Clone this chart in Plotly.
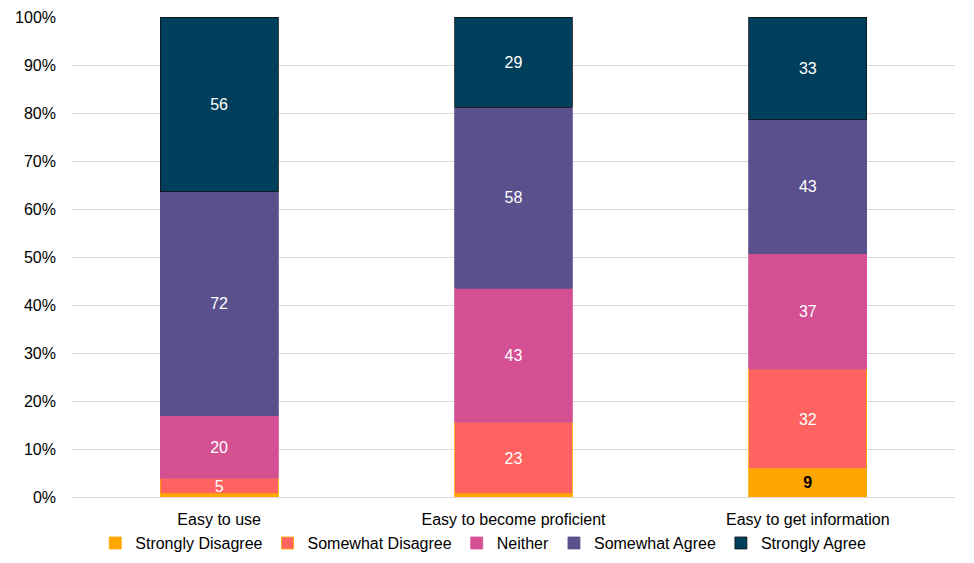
import plotly.graph_objects as go

categories = ["Easy to use", "Easy to become proficient", "Easy to get information"]
series_names = ["Strongly Disagree", "Somewhat Disagree", "Neither", "Somewhat Agree", "Strongly Agree"]
strongly_disagree = [1, 1, 9]
somewhat_disagree = [5, 23, 32]
neither = [20, 43, 37]
somewhat_agree = [72, 58, 43]
strongly_agree = [56, 29, 33]
y_ticks = [0, 10, 20, 30, 40, 50, 60, 70, 80, 90, 100]
y_tick_labels = ["0%", "10%", "20%", "30%", "40%", "50%", "60%", "70%", "80%", "90%", "100%"]

values = [strongly_disagree, somewhat_disagree, neither, somewhat_agree, strongly_agree]
colors = ["#FFA600", "#FF6361", "#D45092", "#5A508D", "#003F5C"]
line_colors = ["#FFA600", "#FFA600", "#D45092", "#5A508D", "#111111"]

FONT = "Liberation Sans, Arial, sans-serif"

fig = go.Figure()
for name, vals, col, lc in zip(series_names, values, colors, line_colors):
    if name == "Strongly Disagree":
        texts = ["<b>%d</b>" % v if v >= 5 else "" for v in vals]
        tcolor = "#000000"
    else:
        texts = [str(v) if v >= 5 else "" for v in vals]
        tcolor = "#FFFFFF"
    fig.add_trace(go.Bar(
        name=name, x=categories, y=vals, marker=dict(color=col, line=dict(color=lc, width=0.8)),
        text=texts, textposition="inside", insidetextanchor="middle", textangle=0,
        textfont=dict(color=tcolor, size=16, family=FONT),
        hoverinfo="skip", constraintext="none",
    ))

fig.update_layout(
    barmode="stack", barnorm="percent", bargap=0.6,
    width=966, height=555,
    margin=dict(l=64, r=19, t=9, b=66, autoexpand=False),
    paper_bgcolor="white", plot_bgcolor="white",
    font=dict(family=FONT, size=16, color="#000000"),
    uniformtext=dict(minsize=16, mode="show"),
    legend=dict(orientation="h", xref="container", x=0.492, xanchor="center",
                yref="paper", y=-0.096, yanchor="middle", bgcolor="rgba(0,0,0,0)",
                font=dict(size=16), traceorder="normal", itemwidth=30),
    showlegend=True,
)
fig.update_yaxes(range=[0, 100], tickmode="array", tickvals=y_ticks, ticktext=y_tick_labels,
                 showgrid=True, gridcolor="#D9D9D9", gridwidth=1, zeroline=False, showline=False,
                 tickfont=dict(size=16), ticks="", automargin=False, ticklabelstandoff=15)
fig.update_xaxes(showline=True, linecolor="#D9D9D9", linewidth=1, tickfont=dict(size=16),
                 ticks="", automargin=False, ticklabelstandoff=8)

fig.write_html("out.html")
